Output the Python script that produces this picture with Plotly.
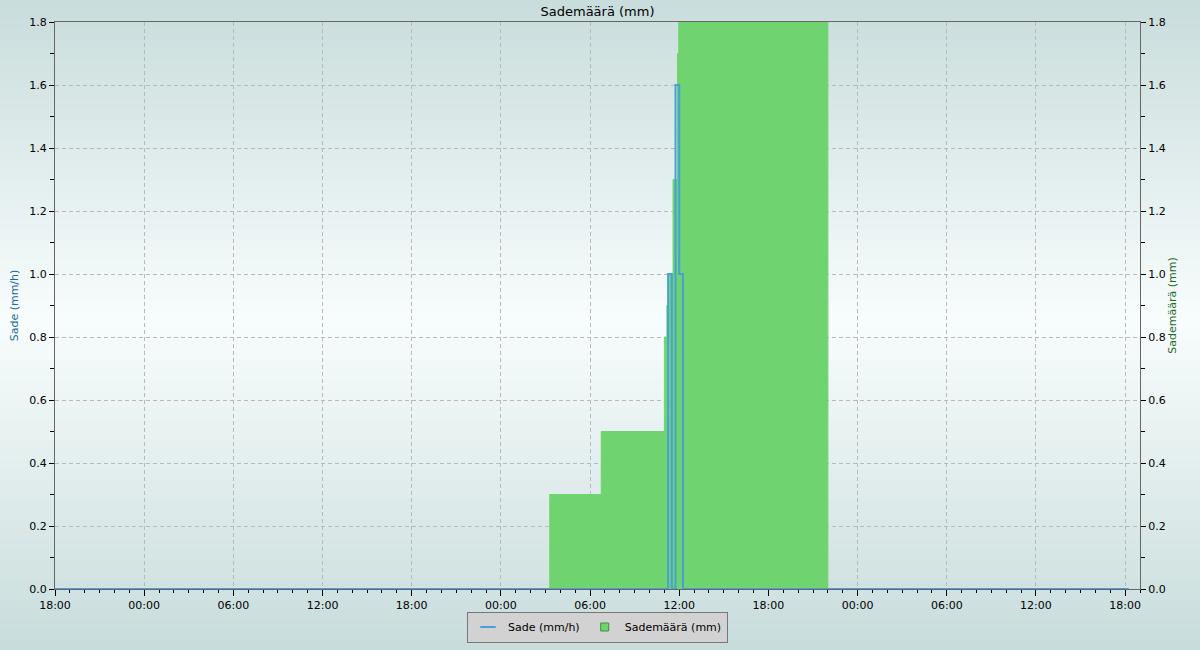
import plotly.graph_objects as go

# ---- data ----
sade_times = ["2024-06-10 18:00", "2024-06-12 11:15", "2024-06-12 11:30",
              "2024-06-12 11:45", "2024-06-12 12:00", "2024-06-12 12:15",
              "2024-06-13 18:15"]
sade_values = [0.0, 1.0, 0.0, 1.6, 1.0, 0.0, 0.0]

summa_times = ["2024-06-12 03:15", "2024-06-12 06:45", "2024-06-12 11:00",
               "2024-06-12 11:10", "2024-06-12 11:20", "2024-06-12 11:35",
               "2024-06-12 11:53", "2024-06-12 11:58", "2024-06-12 22:00",
               "2024-06-12 22:00"]
summa_values = [0.3, 0.5, 0.8, 0.9, 1.0, 1.3, 1.7, 1.8, 1.8, 0.0]

x_range = ["2024-06-10 18:00", "2024-06-13 19:00"]
y_range = [0, 1.8]

title_text = "Sademäärä (mm)"
left_title = "Sade (mm/h)"
right_title = "Sademäärä (mm)"

BLUE = "#4a9fdb"
GREEN = "#6fd46f"

# ---- figure ----
W, H = 1200, 650
ML, MR, MT, MB = 55, 60, 22, 61
plot_h = H - MT - MB

fig = go.Figure()

fig.add_trace(go.Scatter(
    x=summa_times, y=summa_values, name=right_title,
    mode="lines", line=dict(shape="hv", color=GREEN, width=1),
    fill="tozeroy", fillcolor=GREEN, yaxis="y", showlegend=False,
))
fig.add_trace(go.Scatter(
    x=sade_times, y=sade_values, name=left_title,
    mode="lines", line=dict(shape="hv", color=BLUE, width=2),
    yaxis="y2", showlegend=False,
))
# legend-only entries (short line / small square like the reference)
fig.add_trace(go.Scatter(
    x=[None], y=[None], name=left_title, mode="markers",
    marker=dict(symbol="line-ew", size=11, line=dict(color=BLUE, width=2)),
    yaxis="y2", legendrank=1,
))
fig.add_trace(go.Scatter(
    x=[None], y=[None], name=right_title, mode="markers",
    marker=dict(symbol="square", size=8, color=GREEN, line=dict(color="#3f8f3f", width=1)),
    yaxis="y", legendrank=2,
))

# background gradient (bands)
def px_to_paper_y(py):
    return (H - MB - py) / plot_h

shapes = []
n = 65
top_c = (200, 220, 219)
mid_c = (248, 253, 253)
center = 320.0
for i in range(n):
    y0p = i * H / n
    y1p = (i + 1) * H / n
    yc = (y0p + y1p) / 2
    if yc < center:
        t = yc / center
    else:
        t = (H - yc) / (H - center)
    t = max(0.0, min(1.0, t))
    c = tuple(int(round(top_c[k] + (mid_c[k] - top_c[k]) * t)) for k in range(3))
    shapes.append(dict(
        type="rect", xref="paper", yref="paper",
        x0=-0.1, x1=1.1, y0=px_to_paper_y(y1p) - 0.001, y1=px_to_paper_y(y0p) + 0.001,
        fillcolor="rgb(%d,%d,%d)" % c, line=dict(width=0), layer="below",
    ))

font = dict(family="DejaVu Sans", size=11, color="#000000")
grid = dict(showgrid=True, gridcolor="#b9b9b9", griddash="4px,3px", gridwidth=1)

fig.update_layout(
    width=W, height=H,
    margin=dict(l=ML, r=MR, t=MT, b=MB, autoexpand=False),
    paper_bgcolor="rgb(200,220,219)",
    plot_bgcolor="rgba(0,0,0,0)",
    font=font,
    shapes=shapes,
    title=dict(text=title_text, x=0.5, xref="paper", y=1 - 11 / H, yref="container",
               yanchor="middle", xanchor="center",
               font=dict(family="DejaVu Sans", size=13, color="#000000")),
    showlegend=True,
    legend=dict(orientation="h", x=0.5, xanchor="center", xref="paper",
                y=1 - 627 / H, yanchor="middle", yref="container",
                bgcolor="#d2d2d2", bordercolor="#777777", borderwidth=1,
                font=dict(family="DejaVu Sans", size=11, color="#000000"),
                itemwidth=30, tracegroupgap=0),
    xaxis=dict(
        type="date", range=x_range, tickformat="%H:%M",
        dtick=6 * 3600 * 1000, tick0="2024-06-10 00:00",
        ticks="outside", ticklen=6, tickcolor="#000000",
        showline=True, linecolor="#666666", linewidth=1, mirror=True,
        minor=dict(dtick=3600 * 1000, ticks="outside", ticklen=3, tickcolor="#000000", showgrid=False),
        zeroline=False, automargin=False, **grid,
    ),
    yaxis=dict(
        range=y_range, side="right", dtick=0.2, tickformat=".1f",
        ticks="outside", ticklen=5, tickcolor="#000000",
        showline=True, linecolor="#666666", linewidth=1,
        minor=dict(dtick=0.1, ticks="outside", ticklen=4, tickcolor="#000000", showgrid=False),
        title=dict(text=right_title, font=dict(color="#1f6b1f", size=11), standoff=2),
        zeroline=False, automargin=False, **grid,
    ),
    yaxis2=dict(
        range=y_range, side="left", overlaying="y", dtick=0.2, tickformat=".1f",
        ticks="outside", ticklen=5, tickcolor="#000000",
        showline=True, linecolor="#666666", linewidth=1,
        minor=dict(dtick=0.1, ticks="outside", ticklen=4, tickcolor="#000000", showgrid=False),
        title=dict(text=left_title, font=dict(color="#22699b", size=11), standoff=8),
        showgrid=False, zeroline=False, automargin=False,
    ),
)

fig.write_html("out.html", config={"displayModeBar": False},
               post_script="document.body.style.margin='0px';")
